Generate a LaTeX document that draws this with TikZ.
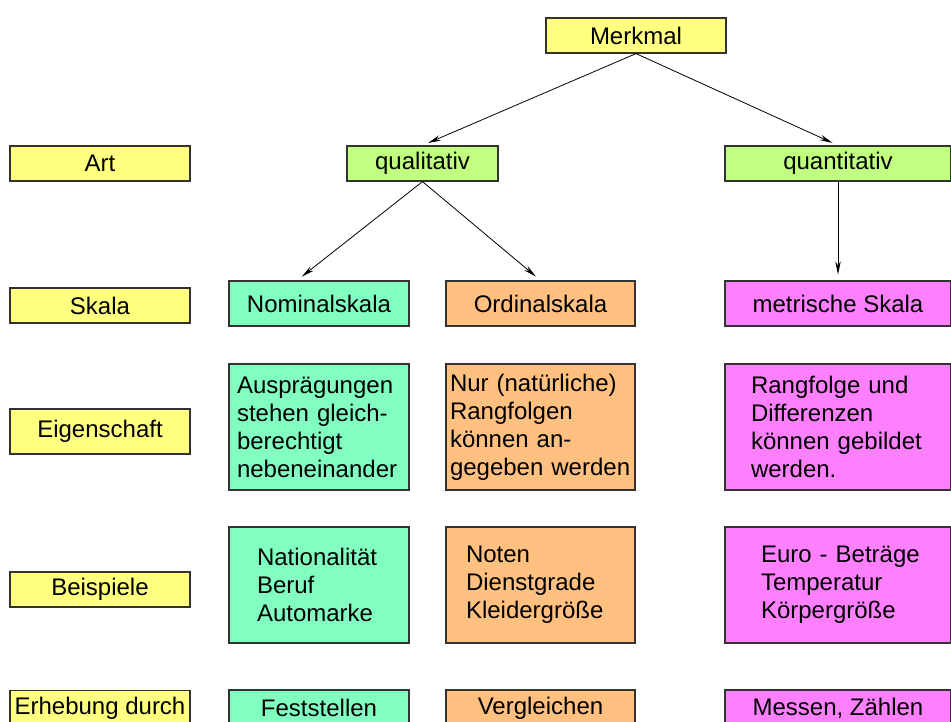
\documentclass[tikz,border=0pt]{standalone}
\usepackage{fontspec}
\setmainfont{Liberation Sans}
\usetikzlibrary{arrows.meta}
\definecolor{labyellow}{HTML}{FFFF80}
\definecolor{artgreen}{HTML}{C0FF80}
\definecolor{nomgreen}{HTML}{80FFC0}
\definecolor{ordorange}{HTML}{FFC080}
\definecolor{metpink}{HTML}{FF80FF}
\hyphenpenalty=10000
\exhyphenpenalty=10000
\begin{document}
\begin{tikzpicture}[
        x=1pt, y=-1pt,
        every node/.style={draw=black!80, line width=1.2pt, inner sep=0pt, font=\fontsize{24}{28}\selectfont},
        labn/.style={fill=labyellow, minimum width=180pt, minimum height=35pt},
        artn/.style={fill=artgreen, minimum height=35pt},
        nomn/.style={fill=nomgreen, minimum width=180pt},
        ordn/.style={fill=ordorange, minimum width=189pt},
        metn/.style={fill=metpink, minimum width=226pt},
        cell/.style={align=left, inner ysep=0pt},
        arr/.style={-{Stealth[length=13pt,width=5.5pt]}, line width=0.8pt, shorten >=6pt},
    ]
    \useasboundingbox (0,0) rectangle (951,722);
    \clip (0,0) rectangle (951,722);

    \node[labn](merkmal) at (636,35.5){Merkmal};
    \node[labn](art) at (100,163.5){Art};
    \node[labn](skala) at (100,305.5){Skala};
    \node[labn, minimum height=45pt](eigen) at (100,431.5){Eigenschaft};
    \node[labn](beisp) at (100,589.5){Beispiele};
    \node[labn](erheb) at (100,708){Erhebung durch};

    \node[artn, minimum width=151pt](qual) at (422.5,163.5){qualitativ};
    \node[artn, minimum width=226pt](quant) at (838,163.5){quantitativ};

    \node[nomn, minimum height=45pt](nom) at (319,303.5){Nominalskala};
    \node[ordn, minimum height=45pt](ord) at (540.5,303.5){Ordinalskala};
    \node[metn, minimum height=45pt](met) at (838,303.5){metrische Skala};

    \node[nomn, cell, text width=164pt, inner xsep=8pt, minimum height=126pt](nomeig) at (319,427)
        {Ausprägungen\\stehen gleich-\\berechtigt\\nebeneinander};
    \node[ordn, cell, text width=181pt, inner xsep=4pt, minimum height=126pt](ordeig) at (540.5,427)
        {Nur (natürliche)\\Rangfolgen\\können an-\\gegeben werden};
    \node[metn, cell, text width=174pt, inner xsep=26pt, minimum height=126pt](meteig) at (838,427)
        {Rangfolge und\\Differenzen\\können gebildet\\werden.};

    \node[nomn, cell, text width=124pt, inner xsep=28pt, minimum height=116pt](nombsp) at (319,585)
        {Nationalität\\Beruf\\Automarke};
    \node[ordn, cell, text width=149pt, inner xsep=20pt, minimum height=116pt](ordbsp) at (540.5,585)
        {Noten\\Dienstgrade\\Kleidergröße};
    \node[metn, cell, text width=154pt, inner xsep=36pt, minimum height=116pt](metbsp) at (838,585)
        {\mbox{Euro - Beträge}\\Temperatur\\Körpergröße};

    \node[nomn, minimum height=36pt](nomerh) at (319,708){Feststellen};
    \node[ordn, minimum height=36pt](orderh) at (540.5,708){Vergleichen};
    \node[metn, minimum height=36pt](meterh) at (838,708){Messen, Zählen};

    \draw[arr] (merkmal.south) -- (qual.north);
    \draw[arr] (merkmal.south) -- (quant.north);
    \draw[arr] (qual.south) -- ([xshift=-22pt]nom.north);
    \draw[arr] (qual.south) -- (ord.north);
    \draw[arr] (quant.south) -- (met.north);
\end{tikzpicture}
\end{document}
